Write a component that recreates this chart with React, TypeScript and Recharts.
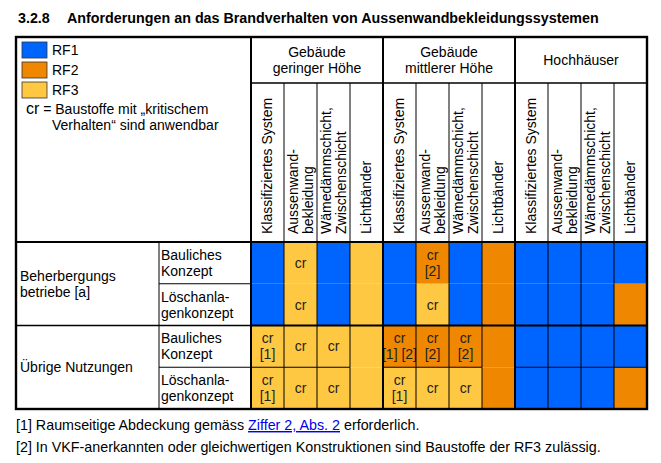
import React from "react";
import { BarChart, Bar, XAxis, YAxis } from "recharts";

// Spaltenköpfe
const groups = ["Gebäude\ngeringer Höhe", "Gebäude\nmittlerer Höhe", "Hochhäuser"];
const columnLabels = [
  "Klassifiziertes System",
  "Aussenwand-\nbekleidung",
  "Wämedämmschicht,\nZwischenschicht",
  "Lichtbänder",
];

// Zeilenköpfe
const usages = ["Beherbergungs\nbetriebe [a]", "Übrige Nutzungen"];
const concepts = ["Bauliches\nKonzept", "Löschanla-\ngenkonzept"];

const rfLevels = ["RF1", "RF2", "RF3"];

// Anforderung je Zeile, 12 Spalten (3 Gebäudekategorien x 4 Bauteile)
const rfBeherbergungBaulich = ["RF1", "RF3", "RF1", "RF3", "RF1", "RF2", "RF1", "RF2", "RF1", "RF1", "RF1", "RF1"];
const rfBeherbergungLoesch = ["RF1", "RF3", "RF1", "RF3", "RF1", "RF3", "RF1", "RF2", "RF1", "RF1", "RF1", "RF2"];
const rfUebrigeBaulich = ["RF3", "RF3", "RF3", "RF3", "RF2", "RF2", "RF2", "RF2", "RF1", "RF1", "RF1", "RF1"];
const rfUebrigeLoesch = ["RF3", "RF3", "RF3", "RF3", "RF3", "RF3", "RF3", "RF2", "RF1", "RF1", "RF1", "RF2"];

// "cr"-Vermerke je Zeile
const crBeherbergungBaulich = ["", "cr", "", "", "", "cr\n[2]", "", "", "", "", "", ""];
const crBeherbergungLoesch = ["", "cr", "", "", "", "cr", "", "", "", "", "", ""];
const crUebrigeBaulich = ["cr\n[1]", "cr", "cr", "", "cr\n[1] [2]", "cr\n[2]", "cr\n[2]", "", "", "", "", ""];
const crUebrigeLoesch = ["cr\n[1]", "cr", "cr", "", "cr\n[1]", "cr", "cr", "", "", "", "", ""];

const rowRf = [rfBeherbergungBaulich, rfBeherbergungLoesch, rfUebrigeBaulich, rfUebrigeLoesch];
const rowCr = [crBeherbergungBaulich, crBeherbergungLoesch, crUebrigeBaulich, crUebrigeLoesch];

const RF_COLORS: Record<string, string> = {
  RF1: "#0064ff",
  RF2: "#ef8700",
  RF3: "#ffc843",
};

const FONT = "'Liberation Sans', Arial, Helvetica, sans-serif";
const FS = 14;

// Layout
const W = 661;
const H = 463;
const LEFT = 16;
const RIGHT = 647;
const TOP = 37;
const HEAD1 = 46;
const HEAD2 = 159;
const BOTTOM = 409;
const LABEL_W = 235;
const SUB_X = 159;
const PLOT_L = LEFT + LABEL_W;
const PLOT_T = TOP + HEAD1 + HEAD2;
const ROW_H = (BOTTOM - PLOT_T) / rowRf.length;
const COL_W = (RIGHT - PLOT_L) / (groups.length * columnLabels.length);

const tableData = groups.flatMap((group, gi) =>
  columnLabels.map((label, ci) => ({
    key: `${gi}-${ci}`,
    group,
    label,
    col: gi * columnLabels.length + ci,
    r0: 1,
    r1: 1,
    r2: 1,
    r3: 1,
  }))
);

function ColumnTick({ x, y, payload }: any) {
  const d = tableData.find((t) => t.key === payload.value);
  const lines = (d?.label ?? "").split("\n");
  const by = y - 8;
  return (
    <g>
      {lines.map((ln, i) => {
        const lx = x + (i - (lines.length - 1) / 2) * 15;
        return (
          <text
            key={i}
            x={lx}
            y={by}
            dy="0.35em"
            transform={`rotate(-90 ${lx} ${by})`}
            textAnchor="start"
            fontSize={FS}
            fill="#000"
          >
            {ln}
          </text>
        );
      })}
    </g>
  );
}

function GroupTick({ x, y, payload }: any) {
  const lines = String(payload.value).split("\n");
  const cy = y - HEAD1 / 2;
  return (
    <g>
      {lines.map((ln, i) => (
        <text
          key={i}
          x={x}
          y={cy + (i - (lines.length - 1) / 2) * 16}
          dy="0.35em"
          textAnchor="middle"
          fontSize={FS}
          fill="#000"
        >
          {ln}
        </text>
      ))}
    </g>
  );
}

function RowTick({ x, y, payload }: any) {
  const r = Math.floor(payload.value);
  const sub = concepts[r % concepts.length].split("\n");
  const main = r % concepts.length === 0 ? usages[r / concepts.length].split("\n") : [];
  const mainY = y + ROW_H / 2;
  return (
    <g>
      {sub.map((ln, i) => (
        <text key={"s" + i} x={SUB_X + 2} y={y + (i - (sub.length - 1) / 2) * 16} dy="0.35em" fontSize={FS} fill="#000">
          {ln}
        </text>
      ))}
      {main.map((ln, i) => (
        <text key={"m" + i} x={x - LABEL_W + 4} y={mainY + (i - (main.length - 1) / 2) * 16} dy="0.35em" fontSize={FS} fill="#000">
          {ln}
        </text>
      ))}
    </g>
  );
}

function TableCell(props: any) {
  const { x, y, width, height, payload, row } = props;
  const col = payload.col;
  const rf = rowRf[row][col];
  const note = rowCr[row][col];
  const lines = note ? note.split("\n") : [];
  const isLicht = col % columnLabels.length === columnLabels.length - 1;
  const merged = isLicht && rowRf.every((r) => r[col] === rf);
  // reversed axis gives negative heights: normalise
  const top = Math.min(y, y + height);
  const h = Math.abs(height);
  const cx = x + width / 2;
  const cy = top + h / 2;
  return (
    <g>
      <rect x={x} y={top} width={width} height={h} fill={RF_COLORS[rf]} />
      {row === 3 && !merged && <line x1={x} x2={x + width} y1={top} y2={top} stroke="#000" strokeWidth={1} />}
      {col > 0 && <line x1={x} x2={x} y1={top} y2={top + h} stroke="#000" strokeWidth={1} />}
      {lines.map((ln, i) => (
        <text
          key={i}
          x={cx}
          y={cy + (i - (lines.length - 1) / 2) * 16}
          dy="0.35em"
          textAnchor="middle"
          fontSize={FS}
          fill="#222"
        >
          {ln}
        </text>
      ))}
    </g>
  );
}

function Frame() {
  const groupW = COL_W * columnLabels.length;
  const thin: number[] = [];
  for (let i = 1; i < tableData.length; i++) {
    if (i % columnLabels.length !== 0) thin.push(PLOT_L + i * COL_W);
  }
  const mid = PLOT_T + 2 * ROW_H;
  return (
    <svg
      width={W}
      height={H}
      style={{ position: "absolute", left: 0, top: 0, pointerEvents: "none" }}
      fontFamily={FONT}
    >
      <text y={23} fontSize={14.3} fontWeight="bold" fill="#000">
        <tspan x={18}>3.2.8</tspan>
        <tspan x={67}>Anforderungen an das Brandverhalten von Aussenwandbekleidungssystemen</tspan>
      </text>

      {thin.map((lx) => (
        <line key={lx} x1={lx} x2={lx} y1={TOP + HEAD1} y2={PLOT_T} stroke="#000" strokeWidth={1} />
      ))}
      <line x1={PLOT_L} x2={RIGHT} y1={TOP + HEAD1} y2={TOP + HEAD1} stroke="#000" strokeWidth={1.6} />
      <line x1={LEFT} x2={RIGHT} y1={PLOT_T} y2={PLOT_T} stroke="#000" strokeWidth={2} />
      <line x1={LEFT} x2={PLOT_L} y1={mid} y2={mid} stroke="#000" strokeWidth={1.4} />
      <line x1={PLOT_L} x2={RIGHT} y1={mid} y2={mid} stroke="#000" strokeWidth={2} />
      <line x1={SUB_X} x2={SUB_X} y1={PLOT_T} y2={BOTTOM} stroke="#000" strokeWidth={1} />
      <line x1={SUB_X} x2={PLOT_L} y1={PLOT_T + ROW_H} y2={PLOT_T + ROW_H} stroke="#000" strokeWidth={1} />
      <line x1={SUB_X} x2={PLOT_L} y1={PLOT_T + 3 * ROW_H} y2={PLOT_T + 3 * ROW_H} stroke="#000" strokeWidth={1} />
      {groups.map((g, gi) => (
        <line key={g} x1={PLOT_L + gi * groupW} x2={PLOT_L + gi * groupW} y1={TOP} y2={BOTTOM} stroke="#000" strokeWidth={2} />
      ))}
      <rect x={LEFT} y={TOP} width={RIGHT - LEFT} height={BOTTOM - TOP} fill="none" stroke="#000" strokeWidth={2.4} />

      {rfLevels.map((rf, i) => (
        <g key={rf}>
          <rect x={22} y={42 + i * 20} width={25} height={16} fill={RF_COLORS[rf]} stroke="#333" strokeWidth={0.8} />
          <text x={52} y={55 + i * 20} fontSize={FS} fill="#000">
            {rf}
          </text>
        </g>
      ))}
      <text y={114} fill="#000">
        <tspan x={26} fontSize={16}>cr</tspan>
        <tspan fontSize={FS}> = Baustoffe mit „kritischem</tspan>
      </text>
      <text x={52} y={130} fontSize={FS} fill="#000">
        Verhalten“ sind anwendbar
      </text>

      <text x={16} y={430} fontSize={14.3} fill="#000">
        [1] Raumseitige Abdeckung gemäss{" "}
        <tspan fill="#0000ee" style={{ textDecoration: "underline" }}>
          Ziffer 2, Abs. 2
        </tspan>{" "}
        erforderlich.
      </text>
      <text x={16} y={452} fontSize={14.3} fill="#000">
        [2] In VKF-anerkannten oder gleichwertigen Konstruktionen sind Baustoffe der RF3 zulässig.
      </text>
    </svg>
  );
}

export default function App() {
  return (
    <div
      style={{
        position: "absolute",
        left: 0,
        top: 0,
        width: W,
        height: H,
        background: "#fff",
        fontFamily: FONT,
      }}
    >
      <BarChart
        width={W}
        height={H}
        data={tableData}
        barCategoryGap={0}
        barGap={0}
        margin={{ top: TOP, right: W - RIGHT, bottom: H - BOTTOM, left: LEFT }}
      >
        <XAxis
          xAxisId="col"
          dataKey="key"
          orientation="top"
          height={HEAD2}
          interval={0}
          tickSize={0}
          tickMargin={0}
          axisLine={false}
          tickLine={false}
          tick={(p: any) => <ColumnTick {...p} />}
        />
        <XAxis
          xAxisId="grp"
          dataKey="group"
          orientation="top"
          height={HEAD1}
          allowDuplicatedCategory={false}
          interval={0}
          tickSize={0}
          tickMargin={0}
          axisLine={false}
          tickLine={false}
          tick={(p: any) => <GroupTick {...p} />}
        />
        <YAxis
          type="number"
          domain={[0, rowRf.length]}
          reversed
          width={LABEL_W}
          ticks={[0.5, 1.5, 2.5, 3.5]}
          interval={0}
          tickSize={0}
          tickMargin={0}
          axisLine={false}
          tickLine={false}
          tick={(p: any) => <RowTick {...p} />}
        />
        {rowRf.map((_, r) => (
          <Bar
            key={r}
            dataKey={`r${r}`}
            stackId="table"
            xAxisId="col"
            isAnimationActive={false}
            shape={(p: any) => <TableCell {...p} row={r} />}
          />
        ))}
      </BarChart>
      <Frame />
    </div>
  );
}
